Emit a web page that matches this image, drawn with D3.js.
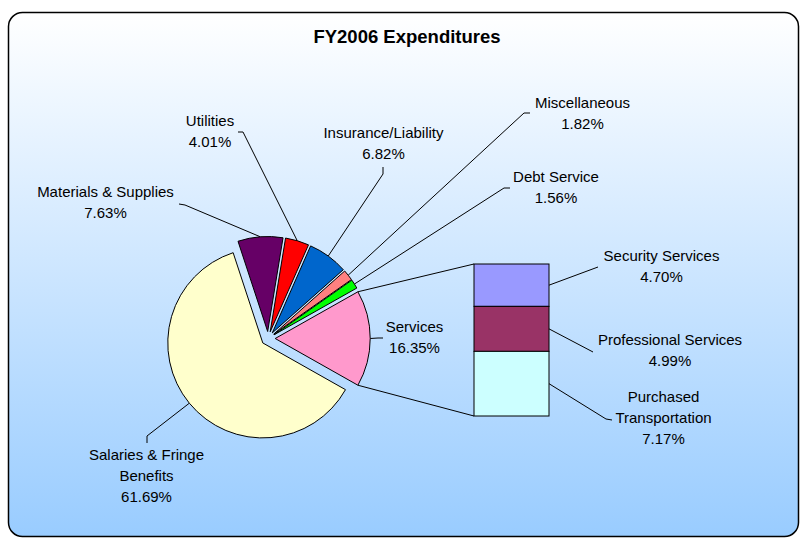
<!DOCTYPE html>
<html>
<head>
<meta charset="utf-8">
<script src="https://cdn.jsdelivr.net/npm/d3@7"></script>
<style>
  html, body { margin: 0; padding: 0; background: #ffffff; }
  svg { display: block; font-family: "Liberation Sans", Arial, sans-serif; }
</style>
</head>
<body>
<svg id="chart" width="800" height="540"></svg>
<script>
// ---- Data -------------------------------------------------------------
const categories = ["Salaries & Fringe Benefits", "Materials & Supplies", "Utilities",
                    "Insurance/Liability", "Miscellaneous", "Debt Service", "Services"];
const values = [61.69, 7.63, 4.01, 6.82, 1.82, 1.56, 16.35];
const sliceColors = ["#FFFFCC", "#660066", "#FF0000", "#0066CC", "#FF8080", "#00FF00", "#FF99CC"];

const serviceParts = ["Security Services", "Professional Services", "Purchased Transportation"];
const serviceValues = [4.70, 4.99, 7.17];
const serviceColors = ["#9999FF", "#993366", "#CCFFFF"];

const title = "FY2006 Expenditures";

// ---- Layout -----------------------------------------------------------
const W = 800, H = 540;
const cx = 268.2, cy = 338.5, R = 95, explode = 7;
const bar = { x0: 474, x1: 549, y0: 264, y1: 416 };
const fontSize = 15, lineGap = 21;

// label text lines, anchor (centre x, first baseline) and leader start/elbow
const pieLabels = [
  { lines: ["Salaries & Fringe", "Benefits"], x: 146.5, y: 460, start: [147, 443], elbow: [147, 436] },
  { lines: ["Materials & Supplies"], x: 105.5, y: 197, start: [179, 204], elbow: [185, 205] },
  { lines: ["Utilities"], x: 210, y: 126, start: [238, 132], elbow: [243, 132] },
  { lines: ["Insurance/Liability"], x: 383.5, y: 138, start: [383, 167], elbow: [383, 174] },
  { lines: ["Miscellaneous"], x: 582.5, y: 108, start: [530, 113], elbow: [524, 113] },
  { lines: ["Debt Service"], x: 556, y: 182, start: [510, 188], elbow: [504, 188] },
  { lines: ["Services"], x: 414.5, y: 332, start: [383, 338], elbow: [378, 338] }
];
const barLabels = [
  { lines: ["Security Services"], x: 661.5, y: 261, start: [598, 267], elbow: [598, 267] },
  { lines: ["Professional Services"], x: 670, y: 345, start: [593, 352], elbow: [593, 352] },
  { lines: ["Purchased", "Transportation"], x: 663.5, y: 402, start: [612, 420], elbow: [606, 419] }
];

const fmt = v => d3.format(".2f")(v) + "%";
const svg = d3.select("#chart");

// ---- Background frame ---------------------------------------------------
const defs = svg.append("defs");
const grad = defs.append("linearGradient")
  .attr("id", "bg").attr("x1", 0).attr("y1", 0).attr("x2", 0).attr("y2", 1);
grad.append("stop").attr("offset", "0%").attr("stop-color", "#FFFFFF");
grad.append("stop").attr("offset", "100%").attr("stop-color", "#99CCFF");

svg.append("rect")
  .attr("x", 8.5).attr("y", 12.5).attr("width", 790).attr("height", 524)
  .attr("rx", 14).attr("ry", 14)
  .attr("fill", "url(#bg)").attr("stroke", "#000").attr("stroke-width", 1.5);

svg.append("text")
  .attr("x", 407).attr("y", 43)
  .attr("text-anchor", "middle")
  .attr("font-size", 18.5).attr("font-weight", "bold").attr("fill", "#000")
  .text(title);

// ---- Pie ----------------------------------------------------------------
const total = d3.sum(values);
const svcAngle = values[values.length - 1] / total * 2 * Math.PI;
const a0 = Math.PI / 2 + svcAngle / 2;   // "Services" centred on the right
const pie = d3.pie().sort(null).value(d => d).startAngle(a0).endAngle(a0 + 2 * Math.PI);
const arcs = pie(values);
const arcGen = d3.arc().innerRadius(0).outerRadius(R);

arcs.forEach(d => {
  const mid = (d.startAngle + d.endAngle) / 2;
  d.ox = cx + Math.sin(mid) * explode;
  d.oy = cy - Math.cos(mid) * explode;
  d.outer = [d.ox + Math.sin(mid) * R, d.oy - Math.cos(mid) * R];
});

const lines = svg.append("g").attr("fill", "none").attr("stroke", "#000").attr("stroke-width", 1);

svg.append("g").selectAll("path")
  .data(arcs)
  .join("path")
  .attr("transform", d => `translate(${d.ox},${d.oy})`)
  .attr("d", arcGen)
  .attr("fill", (d, i) => sliceColors[i])
  .attr("stroke", "#000")
  .attr("stroke-width", 1)
  .attr("stroke-linejoin", "round");

// ---- Bar of "Services" ---------------------------------------------------
const y = d3.scaleLinear().domain([0, d3.sum(serviceValues)]).range([bar.y0, bar.y1]);
const stackData = [];
serviceValues.reduce((acc, v, i) => {
  stackData.push({ s: acc, e: acc + v, i });
  return acc + v;
}, 0);

svg.append("g").selectAll("rect")
  .data(stackData)
  .join("rect")
  .attr("x", bar.x0).attr("width", bar.x1 - bar.x0)
  .attr("y", d => y(d.s)).attr("height", d => y(d.e) - y(d.s))
  .attr("fill", d => serviceColors[d.i])
  .attr("stroke", "#000").attr("stroke-width", 1);

// connectors between the Services slice and the bar
const svc = arcs[arcs.length - 1];
const corner = a => [svc.ox + Math.sin(a) * R, svc.oy - Math.cos(a) * R];
const up = corner(svc.startAngle), lo = corner(svc.endAngle);
lines.append("line").attr("x1", up[0]).attr("y1", up[1]).attr("x2", bar.x0).attr("y2", y(0));
lines.append("line").attr("x1", lo[0]).attr("y1", lo[1]).attr("x2", bar.x0).attr("y2", y(d3.sum(serviceValues)));

// ---- Labels & leader lines ----------------------------------------------
function drawLabel(lab, valueText, target) {
  lines.append("path")
    .attr("d", d3.line()([lab.start, lab.elbow, target]));
  const t = svg.append("text")
    .attr("text-anchor", "middle")
    .attr("font-size", fontSize)
    .attr("fill", "#000");
  lab.lines.concat([valueText]).forEach((s, k) => {
    t.append("tspan").attr("x", lab.x).attr("y", lab.y + k * lineGap).text(s);
  });
}

arcs.forEach((d, i) => drawLabel(pieLabels[i], fmt(values[i]), d.outer));
stackData.forEach(d => drawLabel(barLabels[d.i], fmt(serviceValues[d.i]),
  [bar.x1, (y(d.s) + y(d.e)) / 2]));
</script>
</body>
</html>
